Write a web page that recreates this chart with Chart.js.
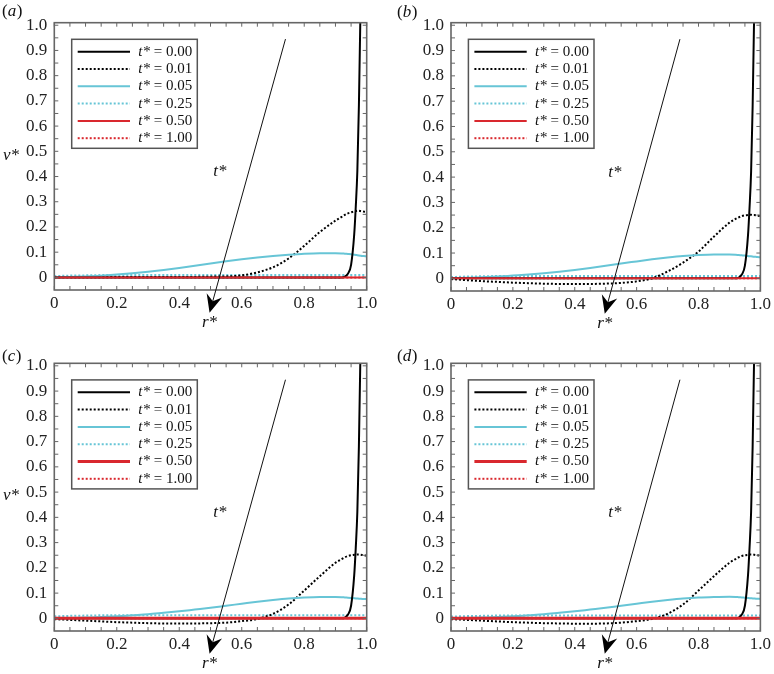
<!DOCTYPE html>
<html><head><meta charset="utf-8">
<script src="https://cdn.jsdelivr.net/npm/chart.js@4.4.0/dist/chart.umd.min.js"></script>
<style>
html,body{margin:0;padding:0;background:#fff;width:774px;height:674px;overflow:hidden;}
.panel{position:absolute;}
</style></head><body>
<div class="panel" style="left:0;top:0"><canvas id="ca" width="387" height="337"></canvas></div>
<div class="panel" style="left:380px;top:0"><canvas id="cb" width="394" height="337"></canvas></div>
<div class="panel" style="left:0;top:330px"><canvas id="cc" width="387" height="344"></canvas></div>
<div class="panel" style="left:380px;top:330px"><canvas id="cd" width="394" height="344"></canvas></div>
<script>
// ---- data ----
const r = [0,0.05,0.1,0.15,0.2,0.25,0.3,0.35,0.4,0.45,0.5,0.55,0.6,0.65,0.7,0.75,0.8,0.85,0.9,0.92,0.93,0.94,0.95,0.96,0.965,0.97,0.975,0.98,0.985,0.99,1.0];
const xTickVals = [0,0.2,0.4,0.6,0.8,1.0];
const yTickVals = [0,0.1,0.2,0.3,0.4,0.5,0.6,0.7,0.8,0.9,1.0];
const tLabels = ['0.00','0.01','0.05','0.25','0.50','1.00'];
const panelNames = ['a','b','c','d'];

const v000 = [0,0,0,0,0,0,0,0,0,0,0,0,0,0,0,0,0,0,0,0,0.003,0.015,0.05,0.17,0.28,0.42,0.68,1.05,1.5,2.0,3.0];

const vA001 = [0.002,0.002,0.002,0.002,0.002,0.002,0.002,0.002,0.002,0.002,0.003,0.004,0.008,0.02,0.04,0.075,0.125,0.18,0.225,0.24,0.248,0.254,0.258,0.262,0.263,0.264,0.264,0.263,0.262,0.261,0.259];
const vA005 = [0,0.002,0.004,0.007,0.011,0.016,0.022,0.029,0.037,0.046,0.055,0.064,0.072,0.079,0.085,0.09,0.094,0.096,0.096,0.095,0.094,0.093,0.092,0.09,0.089,0.088,0.087,0.086,0.085,0.085,0.083];
const vA025 = [0.005,0.007,0.008,0.009,0.009,0.009,0.009,0.009,0.009,0.009,0.009,0.009,0.009,0.009,0.009,0.009,0.009,0.009,0.009,0.009,0.009,0.009,0.009,0.009,0.009,0.009,0.009,0.009,0.009,0.009,0.009];
const vA050 = [0,0,0,0,0,0,0,0,0,0,0,0,0,0,0,0,0,0,0,0,0,0,0,0,0,0,0,0,0,0,0];
const vA100 = [0,0,0,0,0,0,0,0,0,0,0,0,0,0,0,0,0,0,0,0,0,0,0,0,0,0,0,0,0,0,0];

const vB001 = [-0.003,-0.007,-0.011,-0.014,-0.017,-0.019,-0.021,-0.022,-0.022,-0.022,-0.021,-0.018,-0.012,0.0,0.027,0.062,0.106,0.165,0.22,0.235,0.241,0.246,0.249,0.25,0.251,0.251,0.25,0.25,0.249,0.248,0.246];
const vB005 = [0,0.002,0.004,0.007,0.011,0.015,0.02,0.026,0.033,0.041,0.05,0.059,0.067,0.075,0.082,0.088,0.092,0.094,0.094,0.093,0.092,0.091,0.09,0.088,0.087,0.087,0.086,0.085,0.085,0.084,0.083];
const vB025 = [0.005,0.007,0.008,0.009,0.009,0.009,0.009,0.009,0.009,0.009,0.009,0.009,0.009,0.009,0.009,0.009,0.009,0.009,0.009,0.009,0.009,0.009,0.009,0.009,0.009,0.009,0.009,0.009,0.009,0.009,0.009];
const vB050 = [0,0,0,0,0,0,0,0,0,0,0,0,0,0,0,0,0,0,0,0,0,0,0,0,0,0,0,0,0,0,0];
const vB100 = [0,0,0,0,0,0,0,0,0,0,0,0,0,0,0,0,0,0,0,0,0,0,0,0,0,0,0,0,0,0,0];

const vC001 = [-0.003,-0.006,-0.009,-0.012,-0.015,-0.017,-0.019,-0.02,-0.02,-0.02,-0.019,-0.017,-0.011,-0.002,0.018,0.055,0.11,0.167,0.22,0.235,0.242,0.247,0.25,0.252,0.253,0.253,0.253,0.252,0.251,0.25,0.248];
const vC005 = [0,0.001,0.003,0.005,0.008,0.012,0.016,0.022,0.028,0.035,0.042,0.05,0.058,0.066,0.073,0.079,0.083,0.085,0.085,0.084,0.083,0.082,0.081,0.08,0.079,0.079,0.078,0.078,0.077,0.077,0.076];
const vC025 = [0.008,0.01,0.011,0.012,0.012,0.012,0.012,0.012,0.012,0.012,0.012,0.012,0.012,0.012,0.012,0.012,0.012,0.012,0.012,0.012,0.012,0.012,0.012,0.012,0.012,0.012,0.012,0.012,0.012,0.012,0.012];
const vC050 = [0,0,0,0,0,0,0,0,0,0,0,0,0,0,0,0,0,0,0,0,0,0,0,0,0,0,0,0,0,0,0];
const vC100 = [0,0,0,0,0,0,0,0,0,0,0,0,0,0,0,0,0,0,0,0,0,0,0,0,0,0,0,0,0,0,0];

const vD001 = [-0.003,-0.006,-0.009,-0.012,-0.015,-0.017,-0.019,-0.02,-0.021,-0.021,-0.02,-0.017,-0.011,-0.002,0.018,0.055,0.11,0.167,0.22,0.235,0.242,0.247,0.25,0.252,0.253,0.253,0.253,0.252,0.251,0.25,0.248];
const vD005 = [0,0.001,0.003,0.005,0.008,0.012,0.016,0.022,0.028,0.035,0.042,0.05,0.058,0.066,0.073,0.079,0.083,0.085,0.086,0.085,0.084,0.083,0.082,0.081,0.08,0.08,0.079,0.079,0.078,0.078,0.077];
const vD025 = [0.007,0.009,0.01,0.011,0.011,0.011,0.011,0.011,0.011,0.011,0.011,0.011,0.011,0.011,0.011,0.011,0.011,0.011,0.011,0.011,0.011,0.011,0.011,0.011,0.011,0.011,0.011,0.011,0.011,0.011,0.011];
const vD050 = [0,0,0,0,0,0,0,0,0,0,0,0,0,0,0,0,0,0,0,0,0,0,0,0,0,0,0,0,0,0,0];
const vD100 = [0,0,0,0,0,0,0,0,0,0,0,0,0,0,0,0,0,0,0,0,0,0,0,0,0,0,0,0,0,0,0];

// ---- styles ----
const SERIF = '"Liberation Serif", "DejaVu Serif", serif';
const CYAN = '#67c5d6';
const RED = '#d9282e';
function seriesStyles(redW){
  return [
    {c:'#000000', d:[], w:2, o:1},
    {c:'#000000', d:[2,2], w:2, o:3},
    {c:CYAN, d:[], w:2, o:2},
    {c:CYAN, d:[2,2], w:2, o:4},
    {c:RED, d:[], w:redW, o:-1},
    {c:RED, d:[2,2], w:2, o:5}
  ];
}

const annot = {arrowFrom:[0.74,0.945], arrowTo:[0.497,-0.14], tLabel:[0.53,0.42], vLabelY:0.485};

const framePlugin = {
  id:'frameTicks',
  afterDraw(chart){
    const ctx = chart.ctx, a = chart.chartArea;
    const xs = chart.scales.x, ys = chart.scales.y;
    ctx.save();
    ctx.strokeStyle = '#666';
    ctx.lineWidth = 1;
    ctx.beginPath();
    for (let k=0;k<=20;k++){
      const px = xs.getPixelForValue(k*0.05);
      ctx.moveTo(px, a.bottom); ctx.lineTo(px, a.bottom-4);
      ctx.moveTo(px, a.top); ctx.lineTo(px, a.top+4);
    }
    for (let k=0;k<=20;k++){
      const py = ys.getPixelForValue(k*0.05);
      ctx.moveTo(a.left, py); ctx.lineTo(a.left+4, py);
      ctx.moveTo(a.right, py); ctx.lineTo(a.right-4, py);
    }
    ctx.stroke();
    ctx.lineWidth = 1.6;
    ctx.strokeRect(a.left, a.top, a.right-a.left, a.bottom-a.top);
    ctx.restore();
  }
};

const legendPlugin = {
  id:'boxLegend',
  afterDraw(chart){
    const ctx = chart.ctx, a = chart.chartArea;
    const bx = a.left+17.4, by = a.top+16.6, bw = 125.6, bh = 109;
    ctx.save();
    ctx.fillStyle = '#fff';
    ctx.fillRect(bx, by, bw, bh);
    ctx.strokeStyle = '#555';
    ctx.lineWidth = 1.5;
    ctx.strokeRect(bx, by, bw, bh);
    chart.data.datasets.forEach((ds, i) => {
      const yy = by + 12.4 + i*17.3;
      ctx.strokeStyle = ds.borderColor;
      ctx.lineWidth = ds.borderWidth;
      ctx.setLineDash(ds.borderDash || []);
      ctx.beginPath();
      ctx.moveTo(bx+6, yy); ctx.lineTo(bx+58.3, yy);
      ctx.stroke();
      ctx.setLineDash([]);
      ctx.fillStyle = '#111';
      ctx.textBaseline = 'middle';
      ctx.textAlign = 'left';
      ctx.font = 'italic 15px ' + SERIF;
      const tx = bx + 66.6;
      ctx.fillText('t*', tx, yy);
      const w = ctx.measureText('t*').width;
      ctx.font = '15px ' + SERIF;
      ctx.fillText(' = ' + ds.label, tx + w, yy);
    });
    ctx.restore();
  }
};

const annotPlugin = {
  id:'annot',
  afterDraw(chart, args, opts){
    const ctx = chart.ctx, a = chart.chartArea;
    const xs = chart.scales.x, ys = chart.scales.y;
    ctx.save();
    const x0 = xs.getPixelForValue(annot.arrowFrom[0]), y0 = ys.getPixelForValue(annot.arrowFrom[1]);
    const x1 = xs.getPixelForValue(annot.arrowTo[0]), y1 = ys.getPixelForValue(annot.arrowTo[1]);
    const ang = Math.atan2(y1-y0, x1-x0);
    const ux = Math.cos(ang), uy = Math.sin(ang);
    const nx = -uy, ny = ux;
    const L = 18, HW = 8, N = 12;
    ctx.strokeStyle = '#111';
    ctx.lineWidth = 1;
    ctx.beginPath();
    ctx.moveTo(x0, y0);
    ctx.lineTo(x1 - ux*N, y1 - uy*N);
    ctx.stroke();
    ctx.fillStyle = '#000';
    ctx.beginPath();
    ctx.moveTo(x1, y1);
    ctx.lineTo(x1 - ux*L + nx*HW, y1 - uy*L + ny*HW);
    ctx.lineTo(x1 - ux*N, y1 - uy*N);
    ctx.lineTo(x1 - ux*L - nx*HW, y1 - uy*L - ny*HW);
    ctx.closePath();
    ctx.fill();
    ctx.fillStyle = '#111';
    ctx.font = 'italic 17px ' + SERIF;
    ctx.textAlign = 'center';
    ctx.textBaseline = 'middle';
    ctx.fillText('t*', xs.getPixelForValue(annot.tLabel[0]), ys.getPixelForValue(annot.tLabel[1]));
    ctx.fillText('r*', xs.getPixelForValue(annot.arrowTo[0]), a.bottom + 33);
    if (opts.showV){
      ctx.textAlign = 'left';
      ctx.fillText('v*', 3, ys.getPixelForValue(annot.vLabelY));
    }
    ctx.textAlign = 'left';
    ctx.font = '17px ' + SERIF;
    let px = opts.labelX;
    const py = opts.labelY;
    ctx.fillText('(', px, py); px += ctx.measureText('(').width;
    ctx.font = 'italic 17px ' + SERIF;
    ctx.fillText(opts.name, px, py); px += ctx.measureText(opts.name).width + 0.5;
    ctx.font = '17px ' + SERIF;
    ctx.fillText(')', px, py);
    ctx.restore();
  }
};

function pts(vals){ return r.map((x,i)=>({x:x, y:vals[i]})); }

function makeChart(id, series, g, name, showV, redW, labelX, labelY){
  const st = seriesStyles(redW);
  const datasets = series.map((vals, i) => ({
    label: tLabels[i],
    data: pts(vals),
    borderColor: st[i].c,
    borderDash: st[i].d,
    borderWidth: st[i].w,
    order: st[i].o,
    pointRadius: 0,
    fill: false,
    cubicInterpolationMode: 'monotone'
  }));
  return new Chart(document.getElementById(id), {
    type:'line',
    data:{datasets},
    options:{
      responsive:false,
      animation:false,
      devicePixelRatio:1,
      layout:{padding:{left:0, top:g.T, right:g.W-g.R, bottom:0}},
      plugins:{legend:{display:false}, tooltip:{enabled:false},
        annot:{name, showV, labelX, labelY}},
      scales:{
        x:{type:'linear', min:0, max:1,
          grid:{display:false, drawTicks:false}, border:{display:false},
          afterBuildTicks:(s)=>{ s.ticks = xTickVals.map(v=>({value:v})); },
          afterFit:(s)=>{ s.height = g.H - g.B; },
          ticks:{padding:3, color:'#222', font:{family:SERIF, size:17}, maxRotation:0,
            callback:(v)=> v===0 ? '0' : v.toFixed(1)}
        },
        y:{type:'linear', min:-0.05, max:1.01,
          grid:{display:false, drawTicks:false}, border:{display:false},
          afterBuildTicks:(s)=>{ s.ticks = yTickVals.map(v=>({value:v})); },
          afterFit:(s)=>{ s.width = g.L; },
          ticks:{padding:7, color:'#222', font:{family:SERIF, size:17},
            callback:(v)=> v===0 ? '0' : v.toFixed(1)}
        }
      }
    },
    plugins:[framePlugin, legendPlugin, annotPlugin]
  });
}

makeChart('ca', [v000,vA001,vA005,vA025,vA050,vA100], {W:387,H:337,L:54.3,R:366.7,T:22.7,B:290}, panelNames[0], true, 2, 2, 12);
makeChart('cb', [v000,vB001,vB005,vB025,vB050,vB100], {W:394,H:337,L:71,R:382.7,T:22.7,B:291}, panelNames[1], false, 2, 17, 13);
makeChart('cc', [v000,vC001,vC005,vC025,vC050,vC100], {W:387,H:344,L:54.3,R:366.7,T:33.3,B:301}, panelNames[2], true, 3, 2, 27);
makeChart('cd', [v000,vD001,vD005,vD025,vD050,vD100], {W:394,H:344,L:71,R:382.7,T:33.3,B:301}, panelNames[3], false, 3, 17, 27);
</script>
</body></html>
